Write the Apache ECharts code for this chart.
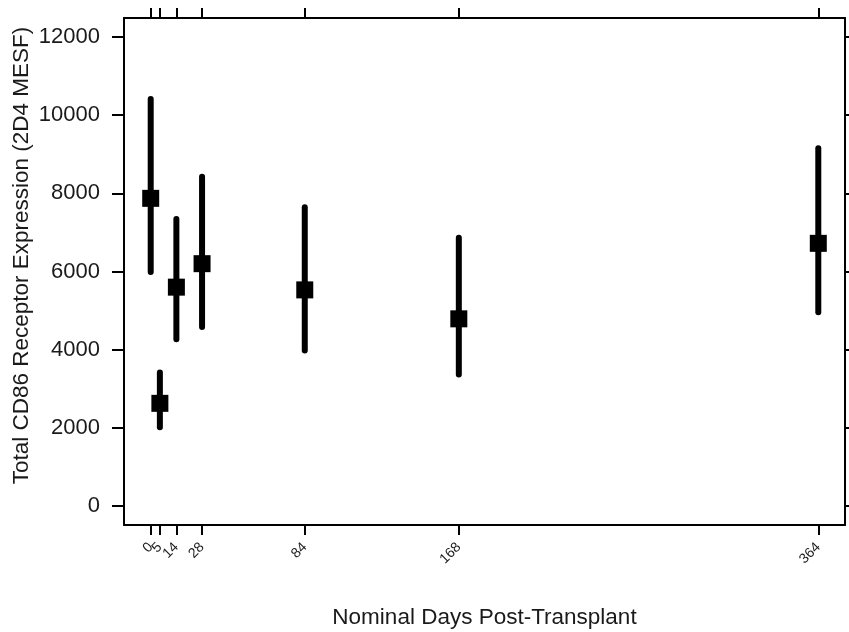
<!DOCTYPE html>
<html>
<head>
<meta charset="utf-8">
<script src="https://cdn.jsdelivr.net/npm/echarts@6/dist/echarts.min.js"></script>
<style>
html,body{margin:0;padding:0;background:#fff;}
#c{width:849px;height:632px;}
</style>
</head>
<body>
<div id="c"></div>
<script>
const days = [0, 5, 14, 28, 84, 168, 364];
const means = [7870, 2630, 5600, 6200, 5530, 4790, 6720];
const upper = [10410, 3420, 7340, 8420, 7640, 6860, 9150];
const lower = [5990, 2020, 4270, 4580, 3980, 3370, 4960];
const xTicks = [0, 5, 14, 28, 84, 168, 364];
const xLabelsA = [0, 14, 28, 84, 168, 364];
const xLabelsB = [5];
const yTicks = [0, 2000, 4000, 6000, 8000, 10000, 12000];

const FONT = 'Liberation Sans, Arial, sans-serif';
const TXT = '#1a1a1a';

const chart = echarts.init(document.getElementById('c'), null, {renderer: 'canvas'});
const data = days.map((d, i) => [d, means[i], lower[i], upper[i]]);

const X_MIN = -14.56, X_MAX = 378.56;
const xBase = {
  type: 'value', min: X_MIN, max: X_MAX,
  splitLine: {show: false},
  axisLine: {show: true, onZero: false, lineStyle: {color: '#000', width: 2}},
  axisTick: {show: true, customValues: xTicks, length: 10, lineStyle: {color: '#000', width: 2}}
};
const yBase = {
  type: 'value', min: -480, max: 12480,
  splitLine: {show: false},
  axisLine: {show: true, onZero: false, lineStyle: {color: '#000', width: 2}},
  axisTick: {show: true, customValues: yTicks, length: 12, lineStyle: {color: '#000', width: 2}}
};
const xLabelStyle = {show: true, rotate: 45, margin: 20, interval: 0,
  hideOverlap: false, showMinLabel: true, showMaxLabel: true,
  fontFamily: FONT, fontSize: 14, color: TXT,
  formatter: function (v) { return String(v); }};

const gridBox = {left: 124, top: 18, right: 4, bottom: 107, containLabel: false, outerBoundsMode: 'none'};

chart.setOption({
  animation: false,
  backgroundColor: '#fff',
  grid: [Object.assign({}, gridBox), Object.assign({}, gridBox)],
  xAxis: [
    Object.assign({}, xBase, {
      gridIndex: 0,
      position: 'bottom',
      name: 'Nominal Days Post-Transplant',
      nameLocation: 'middle', nameGap: 81, nameMoveOverlap: false,
      nameTextStyle: {fontFamily: FONT, fontSize: 22.5, color: TXT},
      axisLabel: Object.assign({}, xLabelStyle, {customValues: xLabelsA})
    }),
    Object.assign({}, xBase, {gridIndex: 0, position: 'top', axisLabel: {show: false}}),
    {
      gridIndex: 1, type: 'value', min: X_MIN, max: X_MAX, position: 'bottom',
      splitLine: {show: false}, axisLine: {show: false, onZero: false}, axisTick: {show: false},
      axisLabel: Object.assign({}, xLabelStyle, {customValues: xLabelsB})
    }
  ],
  yAxis: [
    Object.assign({}, yBase, {
      gridIndex: 0,
      position: 'left',
      name: 'Total CD86 Receptor Expression (2D4 MESF)',
      nameLocation: 'middle', nameGap: 91, nameMoveOverlap: false,
      nameTextStyle: {fontFamily: FONT, fontSize: 22.5, color: TXT, padding: [0, 0, 0, 32]},
      axisLabel: {show: true, customValues: yTicks, margin: 24,
        hideOverlap: false,
        fontFamily: FONT, fontSize: 22, color: TXT,
        formatter: function (v) { return String(v); }}
    }),
    Object.assign({}, yBase, {gridIndex: 0, position: 'right', axisLabel: {show: false}}),
    {gridIndex: 1, type: 'value', min: -480, max: 12480, show: false}
  ],
  series: [{
    type: 'custom',
    xAxisIndex: 0, yAxisIndex: 0,
    data: data,
    encode: {x: 0, y: [1, 2, 3]},
    clip: false,
    renderItem: function (params, api) {
      const x = api.value(0);
      const pm = api.coord([x, api.value(1)]);
      const pl = api.coord([x, api.value(2)]);
      const pu = api.coord([x, api.value(3)]);
      const s = 17;
      return {
        type: 'group',
        children: [
          {type: 'line', shape: {x1: pl[0], y1: pl[1], x2: pu[0], y2: pu[1]},
           style: {stroke: '#000', lineWidth: 6, lineCap: 'round'}},
          {type: 'rect', shape: {x: pm[0] - s / 2, y: pm[1] - s / 2, width: s, height: s},
           style: {fill: '#000'}}
        ]
      };
    }
  }]
});
</script>
</body>
</html>
